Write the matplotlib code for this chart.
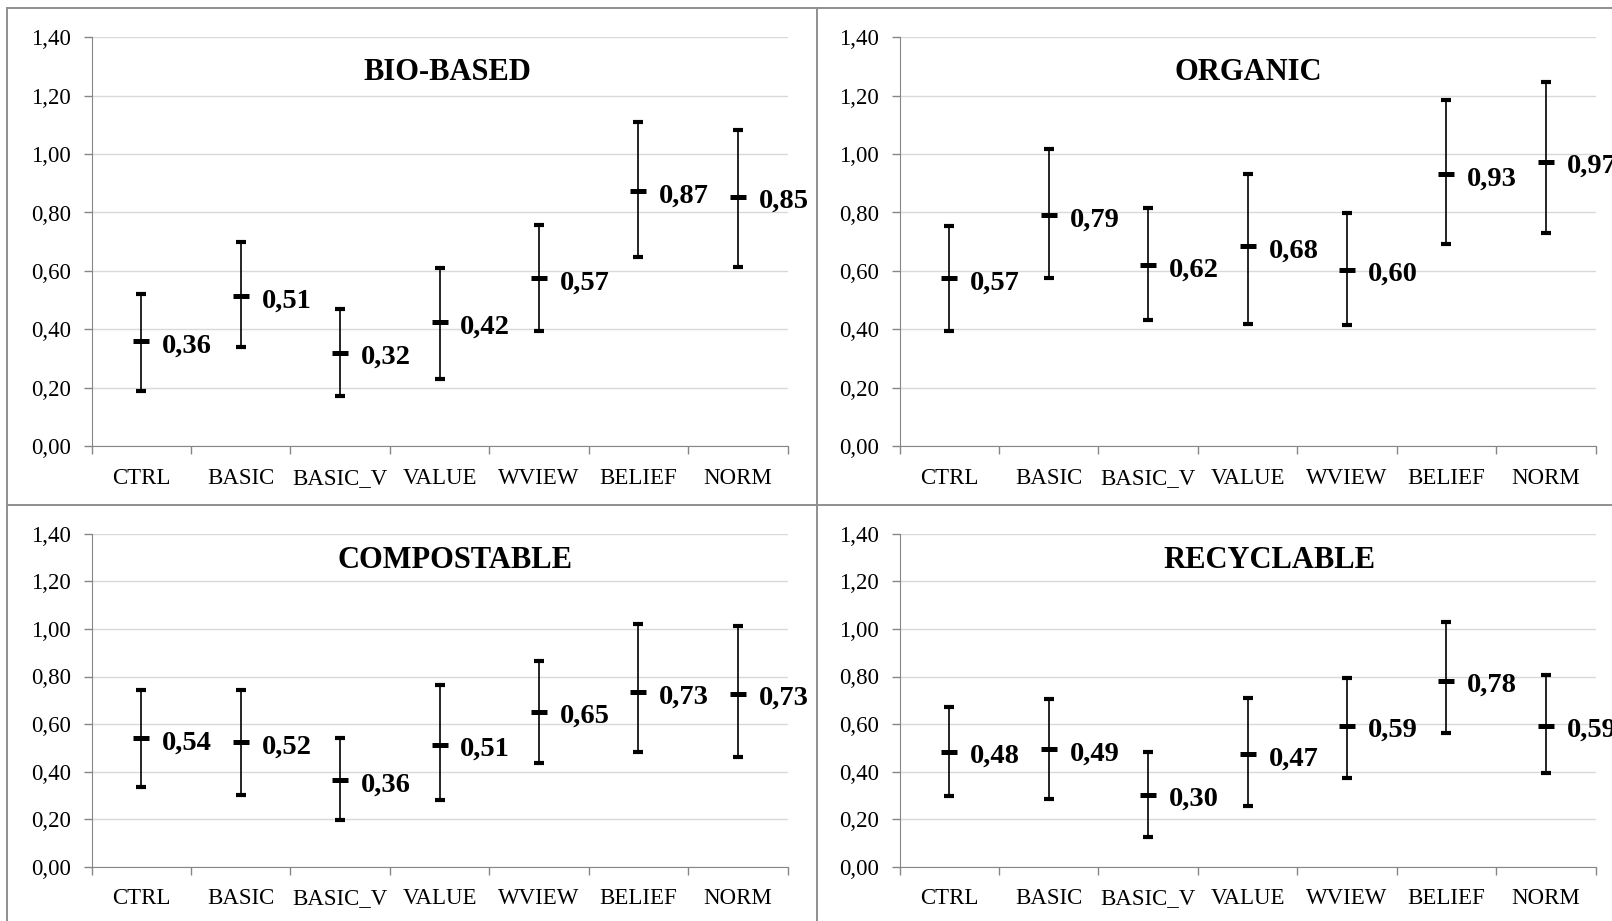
import matplotlib
matplotlib.use("Agg")
import matplotlib.pyplot as plt
from matplotlib.lines import Line2D
import numpy as np

# categories and y axis labels
categories = ['CTRL', 'BASIC', 'BASIC_V', 'VALUE', 'WVIEW', 'BELIEF', 'NORM']
ytick_values = [0.0, 0.2, 0.4, 0.6, 0.8, 1.0, 1.2, 1.4]
ytick_labels = ['0,00', '0,20', '0,40', '0,60', '0,80', '1,00', '1,20', '1,40']

# BIO-BASED
bio_mean = [0.360, 0.514, 0.320, 0.424, 0.574, 0.874, 0.854]
bio_low = [0.190, 0.340, 0.170, 0.230, 0.394, 0.649, 0.614]
bio_high = [0.521, 0.700, 0.468, 0.609, 0.758, 1.111, 1.084]

# ORGANIC
org_mean = [0.574, 0.791, 0.620, 0.684, 0.604, 0.932, 0.974]
org_low = [0.393, 0.577, 0.432, 0.419, 0.415, 0.692, 0.729]
org_high = [0.753, 1.018, 0.815, 0.931, 0.798, 1.185, 1.247]

# COMPOSTABLE
comp_mean = [0.540, 0.524, 0.364, 0.514, 0.652, 0.734, 0.728]
comp_low = [0.336, 0.303, 0.196, 0.281, 0.438, 0.481, 0.460]
comp_high = [0.742, 0.742, 0.543, 0.763, 0.865, 1.022, 1.012]

# RECYCLABLE
rec_mean = [0.484, 0.494, 0.304, 0.474, 0.593, 0.782, 0.594]
rec_low = [0.299, 0.285, 0.124, 0.256, 0.375, 0.564, 0.396]
rec_high = [0.672, 0.704, 0.484, 0.708, 0.795, 1.028, 0.805]

plt.rcParams['font.family'] = ['Liberation Serif', 'DejaVu Serif']

fig = plt.figure(figsize=(16.12, 9.21), dpi=100)

W, H = 1612.0, 921.0
# axes boxes in pixels: left, y of 0, right, y of 1.4 ; title centre
panels = [
    ('BIO-BASED', bio_mean, bio_low, bio_high, (91.5, 446.1, 787.5, 37.3), (447, 73)),
    ('ORGANIC', org_mean, org_low, org_high, (899.6, 446.1, 1595.6, 37.3), (1248, 73)),
    ('COMPOSTABLE', comp_mean, comp_low, comp_high, (91.5, 866.9, 787.5, 533.7), (455, 560)),
    ('RECYCLABLE', rec_mean, rec_low, rec_high, (899.6, 866.9, 1595.6, 533.7), (1269, 560)),
]

axis_grey = '#868686'
x = np.arange(len(categories))

for title, mean, low, high, box, tpos in panels:
    l, b, r, t = box
    ax = fig.add_axes([l / W, 1 - b / H, (r - l) / W, (b - t) / H])
    mean = np.array(mean)
    low = np.array(low)
    high = np.array(high)
    yerr = [mean - low, high - mean]
    ax.errorbar(x, mean, yerr=yerr, fmt='none', ecolor='black', elinewidth=1.2,
                capsize=3.6, capthick=3.0, zorder=3)
    ax.plot(x, mean, linestyle='none', marker='_', markersize=11,
            markeredgewidth=3.6, color='black', zorder=4)
    for xi, m in zip(x, mean):
        ax.annotate(f"{m:.2f}".replace('.', ','), (xi, m), xytext=(15, -3.5),
                    textcoords='offset points', ha='left', va='center',
                    fontsize=20.5, fontweight='bold', annotation_clip=False)

    ax.set_xlim(-0.5, len(categories) - 0.5)
    ax.set_ylim(0, 1.4)
    ax.set_yticks(ytick_values)
    ax.set_yticklabels(ytick_labels)
    ax.set_xticks(x)
    ax.set_xticklabels(categories)
    ax.set_xticks(np.arange(-0.5, len(categories)), minor=True)
    ax.tick_params(axis='x', which='major', length=0, pad=15.5, labelsize=16.5)
    ax.tick_params(axis='x', which='minor', length=6, width=1, color=axis_grey)
    ax.tick_params(axis='y', length=6, width=1, color=axis_grey, pad=9, labelsize=16.5)
    ax.grid(True, axis='y', color='#d9d9d9', linewidth=1.0)
    ax.set_axisbelow(True)
    for s in ['top', 'right']:
        ax.spines[s].set_visible(False)
    ax.spines['left'].set_color(axis_grey)
    ax.spines['bottom'].set_color(axis_grey)

    fig.text(tpos[0] / W, 1 - tpos[1] / H, title, ha='center', va='center',
             fontsize=22, fontweight='bold')

# panel borders
border = dict(color='#8f8f8f', linewidth=1.4, transform=fig.transFigure)
fig.add_artist(Line2D([7 / W, 1], [1 - 8.3 / H, 1 - 8.3 / H], **border))
fig.add_artist(Line2D([7 / W, 1], [1 - 505 / H, 1 - 505 / H], **border))
fig.add_artist(Line2D([7.3 / W, 7.3 / W], [0, 1 - 8.3 / H], **border))
fig.add_artist(Line2D([817 / W, 817 / W], [0, 1 - 8.3 / H], **border))

plt.savefig("out.png", dpi=100)
